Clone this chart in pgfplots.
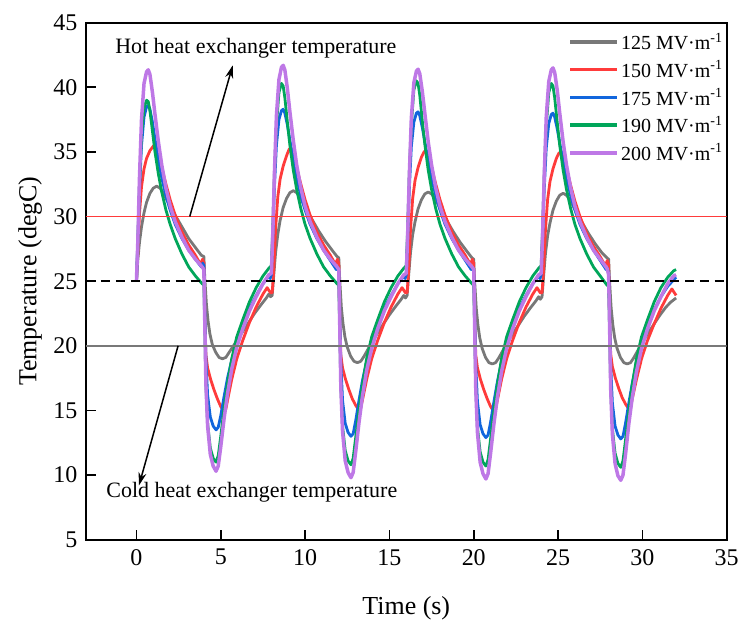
\documentclass[border=0pt]{standalone}
\usepackage{pgfplots}
\pgfplotsset{compat=1.18}
\usepackage{fontspec}
\setmainfont{Liberation Serif}
\usetikzlibrary{arrows.meta}
\definecolor{cgray}{RGB}{120,120,120}
\definecolor{cred}{RGB}{255,59,59}
\definecolor{cblue}{RGB}{17,102,221}
\definecolor{cgreen}{RGB}{0,166,90}
\definecolor{cpurple}{RGB}{190,120,230}
\begin{document}
\begin{tikzpicture}
\begin{axis}[
  name=ax,
  scale only axis,
  width=642pt, height=518pt,
  xmin=-3, xmax=35, ymin=5, ymax=45,
  xtick={0,5,10,15,20,25,30,35}, ytick={5,10,15,20,25,30,35,40,45},
  xticklabels={0,5,10,15,20,25,30,35},
  yticklabels={5,10,15,20,25,30,35,40,45},
  tick pos=left, tick align=inside,
  major tick length=10pt,
  major tick style={line width=1.6pt, black},
  axis line style={line width=1.8pt},
  tick label style={font=\rmfamily\fontsize{24}{28}\selectfont},
  xticklabel style={yshift=-6pt},
  yticklabel style={xshift=-5pt},
  xlabel={Time (s)},
  ylabel={Temperature (degC)},
  label style={font=\fontsize{26}{30}\selectfont},
  xlabel style={at={(axis description cs:0.5,-0.133)}, anchor=center},
  ylabel style={at={(axis description cs:-0.087,0.5)}, anchor=center},
  legend style={draw=none, fill=none, at={(1,1)}, anchor=north east, xshift=-2pt, yshift=-8pt,
    font=\fontsize{20}{24}\selectfont, row sep=5.5pt, inner sep=0pt,
    cells={anchor=west}},
  legend image code/.code={\draw[#1, line width=3.6pt] (0pt,0pt) -- (47pt,0pt);},
  clip=true,
]
\addplot[cgray, line width=2.8pt, line join=round] coordinates {
(0,25.0) (0.08,26.6) (0.18,28.0) (0.30,29.2) (0.45,30.3) (0.60,31.1) (0.80,31.8) (1.00,32.2) (1.20,32.35) (1.40,32.2) (1.60,31.8) (1.80,31.3) (2.00,30.8) (2.30,30.1) (2.70,29.2) (3.10,28.3) (3.50,27.6) (3.85,27.0) (4.00,26.9)
(4.05,25.3) (4.15,23.2) (4.25,21.9) (4.36,20.9) (4.50,20.1) (4.70,19.5) (4.90,19.1) (5.10,19.0) (5.30,19.1) (5.50,19.5) (5.80,20.1) (6.20,20.9) (6.60,21.7) (7.00,22.5) (7.40,23.2) (7.70,23.7) (7.85,24.0) (7.95,23.8)
(8.05,23.9) (8.15,25.6) (8.25,27.2) (8.38,28.6) (8.52,29.7) (8.70,30.7) (8.90,31.4) (9.10,31.85) (9.30,32.0) (9.50,31.85) (9.70,31.5) (9.90,31.0) (10.10,30.5) (10.40,29.8) (10.80,28.9) (11.20,28.1) (11.60,27.4) (11.90,26.9) (12.00,26.8)
(12.05,25.2) (12.15,23.0) (12.25,21.7) (12.36,20.7) (12.50,19.9) (12.70,19.2) (12.90,18.8) (13.10,18.7) (13.30,18.8) (13.50,19.2) (13.80,19.9) (14.20,20.8) (14.60,21.6) (15.00,22.4) (15.40,23.1) (15.70,23.6) (15.85,23.9) (15.95,23.7)
(16.05,23.9) (16.15,25.6) (16.25,27.2) (16.38,28.6) (16.52,29.6) (16.70,30.6) (16.90,31.3) (17.10,31.75) (17.30,31.9) (17.50,31.75) (17.70,31.4) (17.90,30.9) (18.10,30.4) (18.40,29.7) (18.80,28.8) (19.20,28.0) (19.60,27.3) (19.90,26.8) (20.00,26.7)
(20.05,25.1) (20.15,22.9) (20.25,21.6) (20.36,20.6) (20.50,19.8) (20.70,19.1) (20.90,18.7) (21.10,18.6) (21.30,18.7) (21.50,19.1) (21.80,19.8) (22.20,20.7) (22.60,21.5) (23.00,22.3) (23.40,23.0) (23.70,23.5) (23.85,23.8) (23.95,23.6)
(24.05,23.8) (24.15,25.5) (24.25,27.1) (24.38,28.5) (24.52,29.5) (24.70,30.5) (24.90,31.2) (25.10,31.65) (25.30,31.8) (25.50,31.65) (25.70,31.3) (25.90,30.8) (26.10,30.3) (26.40,29.6) (26.80,28.7) (27.20,27.9) (27.60,27.2) (27.90,26.8) (28.00,26.7)
(28.05,25.1) (28.15,22.9) (28.25,21.6) (28.36,20.6) (28.50,19.8) (28.70,19.1) (28.90,18.7) (29.10,18.6) (29.30,18.7) (29.50,19.1) (29.80,19.8) (30.20,20.7) (30.60,21.5) (31.00,22.3) (31.40,23.0) (31.70,23.4) (32.00,23.7)
};
\addlegendentry{125 MV·m\textsuperscript{-1}}
\addplot[cred, line width=2.8pt, line join=round] coordinates {
(0,25.0) (0.08,27.2) (0.18,30.2) (0.30,32.3) (0.45,33.7) (0.60,34.5) (0.80,35.1) (1.00,35.45) (1.10,35.5) (1.20,35.3) (1.35,34.6) (1.50,33.8) (1.75,32.5) (2.00,31.3) (2.30,30.1) (2.70,28.8) (3.10,27.8) (3.50,27.0) (3.80,26.3) (3.92,26.7) (4.00,26.4)
(4.05,22.5) (4.12,19.3) (4.22,18.3) (4.40,17.4) (4.60,16.6) (4.80,15.9) (5.00,15.3) (5.20,14.9) (5.30,15.1) (5.45,16.1) (5.65,17.4) (5.95,19.0) (6.30,20.4) (6.70,21.8) (7.10,23.0) (7.50,24.0) (7.75,24.5) (7.95,24.1)
(8.05,24.1) (8.15,26.0) (8.25,29.0) (8.38,31.5) (8.52,32.9) (8.70,33.9) (8.90,34.7) (9.05,35.2) (9.15,35.3) (9.25,35.1) (9.38,34.5) (9.50,33.8) (9.75,32.5) (10.00,31.3) (10.30,30.1) (10.70,28.8) (11.10,27.8) (11.50,27.0) (11.80,26.3) (11.92,26.7) (12.00,26.4)
(12.05,22.5) (12.12,19.3) (12.22,18.3) (12.40,17.4) (12.60,16.6) (12.80,15.9) (13.00,15.4) (13.20,15.0) (13.30,15.2) (13.45,16.1) (13.65,17.4) (13.95,19.0) (14.30,20.4) (14.70,21.8) (15.10,23.0) (15.50,24.0) (15.75,24.5) (15.95,24.1)
(16.05,24.1) (16.15,26.0) (16.25,29.0) (16.38,31.4) (16.52,32.8) (16.70,33.8) (16.90,34.6) (17.05,35.0) (17.15,35.1) (17.25,34.95) (17.38,34.4) (17.50,33.8) (17.75,32.5) (18.00,31.3) (18.30,30.1) (18.70,28.8) (19.10,27.8) (19.50,27.0) (19.80,26.3) (19.92,26.7) (20.00,26.4)
(20.05,22.5) (20.12,19.3) (20.22,18.3) (20.40,17.4) (20.60,16.6) (20.80,15.9) (21.00,15.3) (21.20,14.9) (21.30,15.1) (21.45,16.1) (21.65,17.4) (21.95,19.0) (22.30,20.4) (22.70,21.8) (23.10,23.0) (23.50,24.0) (23.75,24.5) (23.95,24.1)
(24.05,24.1) (24.15,26.0) (24.25,28.9) (24.38,31.3) (24.52,32.7) (24.70,33.7) (24.90,34.5) (25.05,34.9) (25.15,35.0) (25.25,34.85) (25.38,34.3) (25.50,33.7) (25.75,32.4) (26.00,31.2) (26.30,30.0) (26.70,28.7) (27.10,27.7) (27.50,26.9) (27.80,26.2) (27.92,26.6) (28.00,26.3)
(28.05,22.5) (28.12,19.4) (28.22,18.4) (28.40,17.5) (28.60,16.7) (28.80,16.0) (29.00,15.5) (29.20,15.1) (29.30,15.3) (29.45,16.2) (29.65,17.4) (29.95,19.0) (30.30,20.4) (30.70,21.7) (31.10,22.9) (31.50,23.9) (31.75,24.4) (31.90,24.1) (32.00,23.9)
};
\addlegendentry{150 MV·m\textsuperscript{-1}}
\addplot[cblue, line width=2.8pt, line join=round] coordinates {
(0,25.0) (0.08,27.8) (0.18,32.0) (0.30,35.5) (0.45,37.7) (0.60,38.5) (0.70,38.6) (0.80,38.3) (0.95,37.3) (1.10,36.0) (1.30,34.4) (1.50,33.0) (1.75,31.6) (2.00,30.5) (2.30,29.4) (2.70,28.3) (3.10,27.4) (3.50,26.7) (3.85,26.1) (3.93,26.4) (4.00,26.2)
(4.05,23.0) (4.12,19.0) (4.22,16.2) (4.38,14.5) (4.55,13.8) (4.72,13.5) (4.85,13.7) (5.00,14.6) (5.20,16.1) (5.40,17.5) (5.65,18.9) (5.95,20.3) (6.30,21.6) (6.70,22.9) (7.10,23.9) (7.50,24.8) (7.85,25.4) (7.93,25.2)
(8.00,25.5) (8.08,28.2) (8.18,32.2) (8.30,35.5) (8.45,37.5) (8.60,38.2) (8.70,38.3) (8.80,38.0) (8.95,37.1) (9.10,35.9) (9.30,34.4) (9.50,33.0) (9.75,31.6) (10.00,30.5) (10.30,29.4) (10.70,28.3) (11.10,27.4) (11.50,26.6) (11.85,25.9) (11.93,26.1) (12.00,25.8)
(12.05,22.8) (12.12,18.7) (12.22,15.8) (12.38,14.0) (12.55,13.3) (12.72,13.0) (12.85,13.2) (13.00,14.2) (13.20,15.8) (13.40,17.3) (13.65,18.8) (13.95,20.3) (14.30,21.6) (14.70,22.9) (15.10,23.9) (15.50,24.8) (15.85,25.4) (15.93,25.2)
(16.00,25.5) (16.08,28.2) (16.18,32.1) (16.30,35.4) (16.45,37.3) (16.60,38.0) (16.70,38.1) (16.80,37.8) (16.95,36.9) (17.10,35.8) (17.30,34.3) (17.50,33.0) (17.75,31.6) (18.00,30.5) (18.30,29.4) (18.70,28.3) (19.10,27.4) (19.50,26.6) (19.85,25.9) (19.93,26.1) (20.00,25.8)
(20.05,22.8) (20.12,18.6) (20.22,15.7) (20.38,13.9) (20.55,13.2) (20.72,12.9) (20.85,13.1) (21.00,14.1) (21.20,15.7) (21.40,17.2) (21.65,18.8) (21.95,20.3) (22.30,21.6) (22.70,22.9) (23.10,23.9) (23.50,24.8) (23.85,25.4) (23.93,25.2)
(24.00,25.5) (24.08,28.2) (24.18,32.1) (24.30,35.3) (24.45,37.2) (24.60,37.9) (24.70,38.0) (24.80,37.7) (24.95,36.8) (25.10,35.7) (25.30,34.3) (25.50,33.0) (25.75,31.6) (26.00,30.5) (26.30,29.4) (26.70,28.3) (27.10,27.4) (27.50,26.6) (27.85,25.9) (27.93,26.0) (28.00,25.6)
(28.05,22.8) (28.12,18.5) (28.22,15.6) (28.38,13.8) (28.55,13.1) (28.72,12.8) (28.85,13.0) (29.00,14.0) (29.20,15.6) (29.40,17.1) (29.65,18.7) (29.95,20.2) (30.30,21.5) (30.70,22.8) (31.10,23.8) (31.50,24.6) (31.85,25.1) (32.00,25.3)
};
\addlegendentry{175 MV·m\textsuperscript{-1}}
\addplot[cgreen, line width=2.8pt, line join=round] coordinates {
(0,25.0) (0.08,28.0) (0.18,32.5) (0.30,36.3) (0.45,38.4) (0.60,39.0) (0.70,38.9) (0.80,38.2) (0.95,36.6) (1.10,35.0) (1.30,33.3) (1.50,31.9) (1.75,30.5) (2.00,29.4) (2.30,28.3) (2.70,27.1) (3.10,26.1) (3.50,25.4) (3.90,24.8) (4.00,24.7)
(4.05,21.5) (4.12,17.0) (4.22,14.0) (4.38,12.1) (4.55,11.3) (4.72,11.0) (4.85,11.5) (5.00,13.0) (5.20,15.2) (5.40,17.1) (5.65,19.0) (5.95,20.7) (6.30,22.0) (6.70,23.4) (7.10,24.5) (7.50,25.4) (7.85,26.0)
(8.00,26.2) (8.08,29.0) (8.18,33.3) (8.30,37.0) (8.45,39.6) (8.60,40.3) (8.70,40.1) (8.80,39.2) (8.95,37.3) (9.10,35.5) (9.30,33.6) (9.50,32.1) (9.75,30.6) (10.00,29.4) (10.30,28.3) (10.70,27.1) (11.10,26.1) (11.50,25.4) (11.90,24.8) (12.00,24.7)
(12.05,21.5) (12.12,16.9) (12.22,13.8) (12.38,11.9) (12.55,11.1) (12.72,10.8) (12.85,11.3) (13.00,12.9) (13.20,15.1) (13.40,17.0) (13.65,19.0) (13.95,20.7) (14.30,22.0) (14.70,23.4) (15.10,24.5) (15.50,25.4) (15.85,26.0)
(16.00,26.2) (16.08,29.0) (16.18,33.4) (16.30,37.1) (16.45,39.8) (16.60,40.5) (16.70,40.3) (16.80,39.4) (16.95,37.4) (17.10,35.6) (17.30,33.6) (17.50,32.1) (17.75,30.6) (18.00,29.4) (18.30,28.3) (18.70,27.1) (19.10,26.1) (19.50,25.4) (19.90,24.8) (20.00,24.7)
(20.05,21.5) (20.12,16.8) (20.22,13.7) (20.38,11.8) (20.55,11.0) (20.72,10.7) (20.85,11.2) (21.00,12.8) (21.20,15.0) (21.40,17.0) (21.65,19.0) (21.95,20.7) (22.30,22.0) (22.70,23.4) (23.10,24.5) (23.50,25.4) (23.85,26.0)
(24.00,26.2) (24.08,29.0) (24.18,33.3) (24.30,37.0) (24.45,39.6) (24.60,40.3) (24.70,40.1) (24.80,39.2) (24.95,37.3) (25.10,35.5) (25.30,33.6) (25.50,32.1) (25.75,30.6) (26.00,29.4) (26.30,28.3) (26.70,27.1) (27.10,26.1) (27.50,25.4) (27.90,24.7) (28.00,24.6)
(28.05,21.5) (28.12,16.8) (28.22,13.6) (28.38,11.7) (28.55,10.9) (28.72,10.6) (28.85,11.1) (29.00,12.7) (29.20,15.0) (29.40,17.0) (29.65,19.0) (29.95,20.7) (30.30,22.0) (30.70,23.4) (31.10,24.5) (31.50,25.3) (31.85,25.8) (32.00,25.9)
};
\addlegendentry{190 MV·m\textsuperscript{-1}}
\addplot[cpurple, line width=3.5pt, line join=round] coordinates {
(0,25.0) (0.08,28.0) (0.18,33.0) (0.30,37.5) (0.45,40.3) (0.60,41.2) (0.70,41.35) (0.80,41.0) (0.95,39.6) (1.10,37.9) (1.30,35.8) (1.50,34.0) (1.75,32.2) (2.00,30.8) (2.30,29.6) (2.70,28.4) (3.10,27.4) (3.50,26.7) (3.90,26.1) (4.00,25.9)
(4.05,22.0) (4.12,17.0) (4.22,13.8) (4.38,11.6) (4.55,10.7) (4.72,10.3) (4.85,10.7) (5.00,12.2) (5.20,14.4) (5.40,16.3) (5.65,18.2) (5.95,19.9) (6.30,21.3) (6.70,22.7) (7.10,23.8) (7.50,24.8) (7.85,25.5)
(8.00,25.6) (8.08,28.5) (8.18,33.3) (8.30,37.8) (8.45,40.6) (8.60,41.55) (8.70,41.7) (8.80,41.35) (8.95,39.9) (9.10,38.1) (9.30,35.9) (9.50,34.0) (9.75,32.2) (10.00,30.8) (10.30,29.6) (10.70,28.4) (11.10,27.4) (11.50,26.7) (11.90,26.1) (12.00,25.9)
(12.05,22.0) (12.12,16.8) (12.22,13.4) (12.38,11.1) (12.55,10.2) (12.72,9.8) (12.85,10.2) (13.00,11.8) (13.20,14.1) (13.40,16.1) (13.65,18.1) (13.95,19.8) (14.30,21.3) (14.70,22.7) (15.10,23.8) (15.50,24.8) (15.85,25.5)
(16.00,25.6) (16.08,28.5) (16.18,33.2) (16.30,37.6) (16.45,40.35) (16.60,41.25) (16.70,41.4) (16.80,41.05) (16.95,39.7) (17.10,38.0) (17.30,35.8) (17.50,34.0) (17.75,32.2) (18.00,30.8) (18.30,29.6) (18.70,28.4) (19.10,27.4) (19.50,26.7) (19.90,26.1) (20.00,25.9)
(20.05,22.0) (20.12,16.7) (20.22,13.3) (20.38,11.0) (20.55,10.1) (20.72,9.7) (20.85,10.1) (21.00,11.7) (21.20,14.0) (21.40,16.0) (21.65,18.0) (21.95,19.8) (22.30,21.3) (22.70,22.7) (23.10,23.8) (23.50,24.8) (23.85,25.5)
(24.00,25.6) (24.08,28.5) (24.18,33.2) (24.30,37.7) (24.45,40.45) (24.60,41.35) (24.70,41.5) (24.80,41.15) (24.95,39.8) (25.10,38.0) (25.30,35.8) (25.50,34.0) (25.75,32.2) (26.00,30.8) (26.30,29.6) (26.70,28.4) (27.10,27.4) (27.50,26.7) (27.90,26.0) (28.00,25.5)
(28.05,22.0) (28.12,16.7) (28.22,13.2) (28.38,10.9) (28.55,9.95) (28.72,9.6) (28.85,10.0) (29.00,11.6) (29.20,14.0) (29.40,16.0) (29.65,18.0) (29.95,19.8) (30.30,21.3) (30.70,22.7) (31.10,23.8) (31.50,24.8) (31.85,25.4) (32.00,25.5)
};
\addlegendentry{200 MV·m\textsuperscript{-1}}
\addplot[cred, line width=1.3pt, forget plot] coordinates {(-3,30) (35,30)};
\addplot[black, line width=1.5pt, dash pattern=on 9pt off 6pt, forget plot] coordinates {(-3,25) (35,25)};
\addplot[cgray, line width=1.6pt, forget plot] coordinates {(-3,20) (35,20)};
\draw[-{Stealth[length=13pt,width=8pt]}, line width=1.5pt] (axis cs:3.16,30) -- (axis cs:5.71,41.7);
\draw[-{Stealth[length=13pt,width=8pt]}, line width=1.5pt] (axis cs:2.47,20) -- (axis cs:0.15,9.2);
\node[font=\fontsize{22}{26}\selectfont, anchor=center] at (axis cs:7.08,43.05) {Hot heat exchanger temperature};
\node[font=\fontsize{22}{26}\selectfont, anchor=center] at (axis cs:6.84,8.7) {Cold heat exchanger temperature};
\end{axis}
\path ([xshift=-86pt,yshift=-83pt]ax.south west) rectangle ([xshift=14pt,yshift=22.7pt]ax.north east);
\end{tikzpicture}
\end{document}
